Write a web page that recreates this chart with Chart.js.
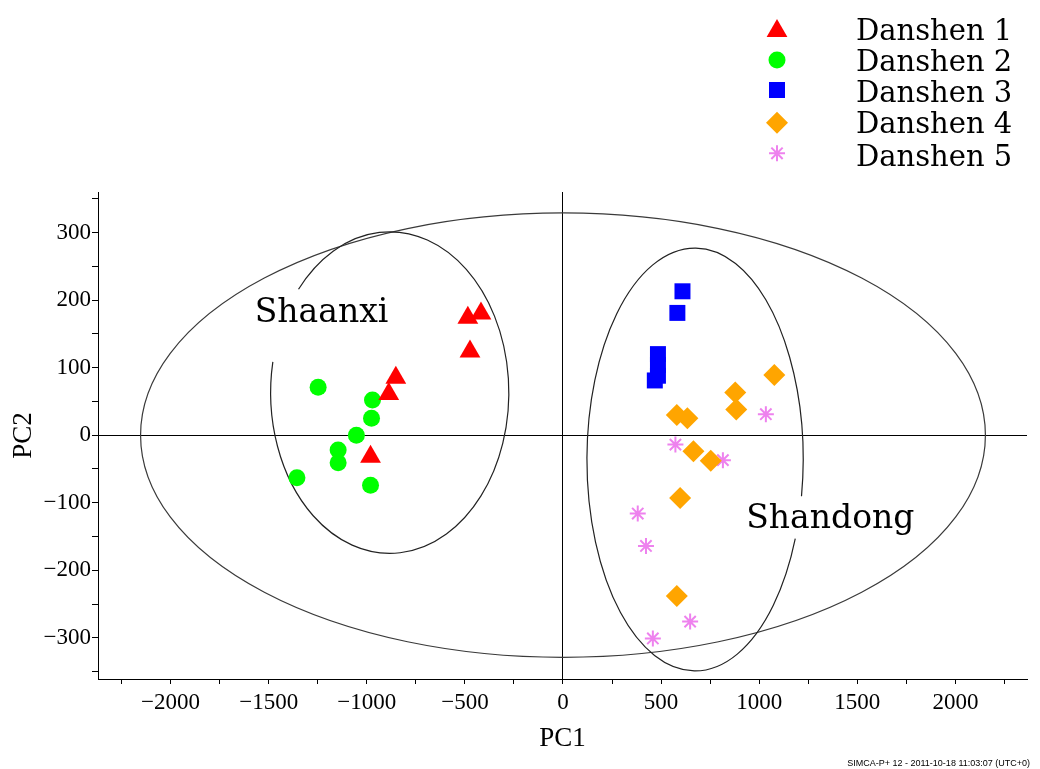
<!DOCTYPE html>
<html>
<head>
<meta charset="utf-8">
<title>PCA score plot - Danshen</title>
<script src="https://cdn.jsdelivr.net/npm/chart.js@4.4.1/dist/chart.umd.min.js"></script>
<style>
  html, body { margin: 0; padding: 0; background: #fff; }
  #wrap { position: relative; width: 1040px; height: 769px; }
</style>
</head>
<body>
<div id="wrap"><canvas id="chart"></canvas></div>
<script>
// PC1 / PC2 scores
const seriesNames = ['Danshen 1', 'Danshen 2', 'Danshen 3', 'Danshen 4', 'Danshen 5'];

const danshen1 = [[-485, 174], [-418, 180], [-474, 124], [-852, 85], [-888, 61], [-981, -32]];
const danshen2 = [[-1248, 71], [-971, 52], [-976, 25], [-1053, 0], [-1146, -22], [-1146, -41], [-1356, -63], [-981, -74]];
const danshen3 = [[609, 213], [583, 181], [484, 120], [484, 104], [484, 88], [468, 81]];
const danshen4 = [[1077, 89], [878, 63], [883, 38], [580, 30], [634, 25], [665, -24], [753, -38], [597, -93], [580, -238]];
const danshen5 = [[1034, 31], [573, -14], [815, -37], [381, -116], [423, -164], [648, -276], [458, -301]];

// axis ranges, tick marks and labelled ticks
const pc1Range = [-2370, 2365];
const pc2Range = [-361, 360];
const pc1Ticks = [-2250, -2000, -1750, -1500, -1250, -1000, -750, -500, -250, 0, 250, 500, 750, 1000, 1250, 1500, 1750, 2000, 2250];
const pc2Ticks = [-350, -300, -250, -200, -150, -100, -50, 0, 50, 100, 150, 200, 250, 300, 350];
const pc1Labels = [-2000, -1500, -1000, -500, 0, 500, 1000, 1500, 2000];
const pc2Labels = [-300, -200, -100, 0, 100, 200, 300];

// ellipses: centre x, centre y, radius x, radius y (in score units)
const hotellingT2 = [0, 0, 2153, 329];
const shaanxiGroup = [-883, 63, 607, 238];
const shandongGroup = [673, -36, 551, 313];

const styles = [
  { pointStyle: 'triangle', color: '#ff0000', radius: 12 },
  { pointStyle: 'circle', color: '#00ff00', radius: 8.5 },
  { pointStyle: 'rect', color: '#0000ff', radius: 11.3 },
  { pointStyle: 'rectRot', color: '#ffa500', radius: 11 },
  { pointStyle: 'star', color: '#ee82ee', radius: 8 },
];

const allSeries = [danshen1, danshen2, danshen3, danshen4, danshen5];

const datasets = allSeries.map((pts, i) => ({
  label: seriesNames[i],
  data: pts.map(p => ({ x: p[0], y: p[1] })),
  pointStyle: styles[i].pointStyle,
  pointRadius: styles[i].radius,
  backgroundColor: styles[i].color,
  borderColor: styles[i].color,
  borderWidth: styles[i].pointStyle === 'star' ? 2 : 0,
}));

const minus = v => String(v).replace('-', '\u2212');
const serif = 'Liberation Serif';
const labelFont = '"DejaVu Serif", serif';

const overlay = {
  id: 'overlay',
  beforeDatasetsDraw(chart) {
    const { ctx, scales: { x, y } } = chart;
    const drawEllipse = (e, start, end, color) => {
      const cx = x.getPixelForValue(e[0]);
      const cy = y.getPixelForValue(e[1]);
      const rx = Math.abs(x.getPixelForValue(e[0] + e[2]) - cx);
      const ry = Math.abs(y.getPixelForValue(e[1] + e[3]) - cy);
      ctx.save();
      ctx.beginPath();
      ctx.ellipse(cx, cy, rx, ry, 0, start * Math.PI / 180, end * Math.PI / 180);
      ctx.strokeStyle = color;
      ctx.lineWidth = 1.2;
      ctx.stroke();
      ctx.restore();
    };
    drawEllipse(hotellingT2, 0, 360, '#3a3a3a');
    // gaps left where the group names sit
    drawEllipse(shaanxiGroup, 220, 551, '#222');
    drawEllipse(shandongGroup, 22, 370, '#222');
  },
  afterDraw(chart) {
    const { ctx, scales: { x, y } } = chart;
    ctx.save();
    ctx.fillStyle = '#000';
    ctx.textBaseline = 'alphabetic';
    ctx.textAlign = 'left';
    ctx.font = '33px ' + labelFont;
    ctx.fillText('Shaanxi', x.getPixelForValue(-1571), y.getPixelForValue(167));
    ctx.fillText('Shandong', x.getPixelForValue(934), y.getPixelForValue(-138));

    // legend, top right
    const rows = [31, 60, 90, 122.7, 153.3];
    const baselines = [39.5, 71, 101.7, 133.3, 165.7];
    seriesNames.forEach((name, i) => {
      const ds = datasets[i];
      ctx.fillStyle = ds.backgroundColor;
      ctx.strokeStyle = ds.borderColor;
      ctx.lineWidth = ds.borderWidth;
      Chart.helpers.drawPoint(ctx, {
        pointStyle: ds.pointStyle,
        radius: ds.pointRadius,
        borderWidth: ds.borderWidth,
        rotation: 0,
      }, 777, rows[i]);
      ctx.fillStyle = '#000';
      ctx.font = '29px ' + labelFont;
      ctx.fillText(name, 856, baselines[i]);
    });

    // software stamp
    ctx.font = '9px "Liberation Sans", Arial, sans-serif';
    ctx.textAlign = 'right';
    ctx.fillText('SIMCA-P+ 12 - 2011-10-18 11:03:07 (UTC+0)', 1030, 766);
    ctx.restore();
  }
};

new Chart(document.getElementById('chart'), {
  type: 'scatter',
  data: { datasets },
  plugins: [overlay],
  options: {
    responsive: true,
    maintainAspectRatio: false,
    animation: false,
    events: [],
    layout: { padding: { top: 192, right: 13, left: 0, bottom: 0 } },
    plugins: {
      legend: { display: false },
      tooltip: { enabled: false },
    },
    scales: {
      x: {
        type: 'linear',
        min: pc1Range[0],
        max: pc1Range[1],
        afterBuildTicks: s => { s.ticks = pc1Ticks.map(v => ({ value: v })); },
        afterFit: s => { s.height = 90; },
        ticks: {
          autoSkip: false,
          maxRotation: 0,
          padding: 5,
          color: '#000',
          font: { family: serif, size: 23 },
          callback: v => pc1Labels.includes(v) ? minus(v) : '',
        },
        grid: {
          color: c => c.tick && c.tick.value === 0 ? '#000' : 'rgba(0,0,0,0)',
          tickColor: '#000',
          tickLength: 5,
        },
        border: { display: true, color: '#000', width: 1 },
        title: {
          display: true,
          text: 'PC1',
          color: '#000',
          font: { family: serif, size: 27 },
          padding: { top: 0, bottom: 14 },
        },
      },
      y: {
        type: 'linear',
        min: pc2Range[0],
        max: pc2Range[1],
        afterBuildTicks: s => { s.ticks = pc2Ticks.map(v => ({ value: v })); },
        afterFit: s => { s.width = 98; },
        ticks: {
          autoSkip: false,
          padding: 1,
          color: '#000',
          font: { family: serif, size: 23 },
          callback: v => pc2Labels.includes(v) ? minus(v) : '',
        },
        grid: {
          color: c => c.tick && c.tick.value === 0 ? '#000' : 'rgba(0,0,0,0)',
          tickColor: '#000',
          tickLength: 6,
        },
        border: { display: true, color: '#000', width: 1 },
        title: {
          display: true,
          text: 'PC2',
          color: '#000',
          font: { family: serif, size: 27 },
          padding: { top: 8, bottom: 0 },
        },
      },
    },
  },
});
</script>
</body>
</html>
